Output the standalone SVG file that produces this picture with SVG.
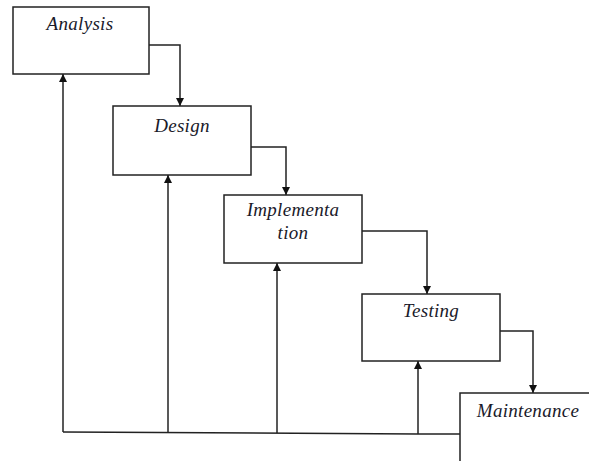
<svg xmlns="http://www.w3.org/2000/svg" width="589" height="461" viewBox="0 0 589 461">
<defs>
<marker id="ah" viewBox="0 0 10 10" refX="10" refY="5" markerWidth="8" markerHeight="8" markerUnits="userSpaceOnUse" orient="auto">
<path d="M0,0 L10,5 L0,10 z" fill="#111"/>
</marker>
<style>
.box{fill:#fff;stroke:#222;stroke-width:1.5}
.lbl{font-family:"Liberation Serif","DejaVu Serif",serif;font-style:italic;font-size:19px;letter-spacing:0.3px;fill:#1a1a2a;text-anchor:middle}
.ln{fill:none;stroke:#222;stroke-width:1.5}
</style>
</defs>
<rect width="589" height="461" fill="#fff"/>
<g id="connectors">
<path class="ln" d="M149,45 H180 V106" marker-end="url(#ah)"/>
<path class="ln" d="M251,147 H286 V195" marker-end="url(#ah)"/>
<path class="ln" d="M362,231 H427 V294" marker-end="url(#ah)"/>
<path class="ln" d="M500,331 H533 V393" marker-end="url(#ah)"/>
<path class="ln" d="M460,434 H418 L63,432"/>
<path class="ln" d="M63,432 V74" marker-end="url(#ah)"/>
<path class="ln" d="M168,432 V175" marker-end="url(#ah)"/>
<path class="ln" d="M277,433 V263" marker-end="url(#ah)"/>
<path class="ln" d="M418,434 V361" marker-end="url(#ah)"/>
</g>
<g id="analysis">
<rect class="box" x="13" y="7" width="136" height="67"/>
<text class="lbl" x="80" y="30">Analysis</text>
</g>
<g id="design">
<rect class="box" x="113" y="106" width="138" height="69"/>
<text class="lbl" x="182" y="132">Design</text>
</g>
<g id="implementation">
<rect class="box" x="224" y="195" width="138" height="68"/>
<text class="lbl" x="293" y="216">Implementa</text>
<text class="lbl" x="293" y="239">tion</text>
</g>
<g id="testing">
<rect class="box" x="362" y="294" width="138" height="67"/>
<text class="lbl" x="431" y="317">Testing</text>
</g>
<g id="maintenance">
<rect class="box" x="460" y="393" width="140" height="80"/>
<text class="lbl" x="528" y="417">Maintenance</text>
</g>
</svg>
